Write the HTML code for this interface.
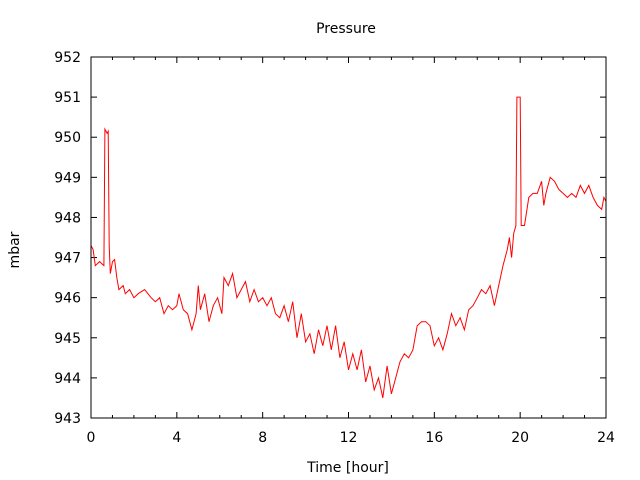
<!DOCTYPE html>
<html><head><meta charset="utf-8"><style>
html,body{margin:0;padding:0;background:#fff;}
svg{display:block;font-family:"DejaVu Sans","Liberation Sans",sans-serif;}
</style></head><body>
<svg id="chart" width="640" height="480" viewBox="0 0 640 480" xmlns="http://www.w3.org/2000/svg">
<rect width="640" height="480" fill="#fff"/>
<text x="346" y="33" font-size="14" text-anchor="middle" fill="#000">Pressure</text>
<text x="348" y="472" font-size="14" text-anchor="middle" fill="#000">Time [hour]</text>
<text x="19" y="250" font-size="14" text-anchor="middle" fill="#000" transform="rotate(-90 19 250)">mbar</text>
<g id="axes"></g>
<polyline id="series" fill="none" stroke="#ff0000" stroke-width="1"/>
<rect x="91" y="57" width="515" height="361" fill="none" stroke="#000" stroke-width="1"/>
</svg>
<script>
const hours = [0,0.1,0.2,0.4,0.6,0.65,0.75,0.8,0.85,0.9,1.0,1.1,1.2,1.3,1.5,1.6,1.8,2.0,2.2,2.5,2.8,3.0,3.2,3.4,3.6,3.8,4.0,4.1,4.3,4.5,4.7,4.9,5.0,5.1,5.3,5.5,5.7,5.9,6.1,6.2,6.4,6.6,6.8,7.0,7.2,7.4,7.6,7.8,8.0,8.2,8.4,8.6,8.8,9.0,9.2,9.4,9.6,9.8,10.0,10.2,10.4,10.6,10.8,11.0,11.2,11.4,11.6,11.8,12.0,12.2,12.4,12.6,12.8,13.0,13.2,13.4,13.6,13.8,14.0,14.2,14.4,14.6,14.8,15.0,15.2,15.4,15.6,15.8,16.0,16.2,16.4,16.6,16.8,17.0,17.2,17.4,17.6,17.8,18.0,18.2,18.4,18.6,18.8,19.0,19.2,19.4,19.5,19.6,19.7,19.8,19.85,19.95,20.0,20.05,20.2,20.4,20.6,20.8,21.0,21.1,21.2,21.4,21.6,21.8,22.0,22.2,22.4,22.6,22.8,23.0,23.2,23.4,23.6,23.8,23.9,24.0];
const pressure = [947.3,947.2,946.8,946.9,946.8,950.2,950.1,950.15,947.3,946.6,946.9,946.95,946.5,946.2,946.3,946.1,946.2,946.0,946.1,946.2,946.0,945.9,946.0,945.6,945.8,945.7,945.8,946.1,945.7,945.6,945.2,945.6,946.3,945.7,946.1,945.4,945.8,946.0,945.6,946.5,946.3,946.6,946.0,946.2,946.4,945.9,946.2,945.9,946.0,945.8,946.0,945.6,945.5,945.8,945.4,945.9,945.0,945.6,944.9,945.1,944.6,945.2,944.8,945.3,944.7,945.3,944.5,944.9,944.2,944.6,944.2,944.7,943.9,944.3,943.7,944.0,943.5,944.3,943.6,944.0,944.4,944.6,944.5,944.7,945.3,945.4,945.4,945.3,944.8,945.0,944.7,945.1,945.6,945.3,945.5,945.2,945.7,945.8,946.0,946.2,946.1,946.3,945.8,946.3,946.8,947.2,947.5,947.0,947.6,947.8,951.0,951.0,951.0,947.8,947.8,948.5,948.6,948.6,948.9,948.3,948.6,949.0,948.9,948.7,948.6,948.5,948.6,948.5,948.8,948.6,948.8,948.5,948.3,948.2,948.5,948.4];
const xTicks = [0,4,8,12,16,20,24];
const yTicks = [943,944,945,946,947,948,949,950,951,952];

const X0=91,X1=606,Y0=418,Y1=57;
function xs(h){return X0+(h-0)/(24-0)*(X1-X0);}
function ys(v){return Y0-(v-943)/(952-943)*(Y0-Y1);}
const NS="http://www.w3.org/2000/svg";
const axes=document.getElementById('axes');
function mk(tag,attrs){const e=document.createElementNS(NS,tag);for(const k in attrs)e.setAttribute(k,attrs[k]);axes.appendChild(e);return e;}
yTicks.forEach(v=>{
  const y=ys(v);
  const t1=mk('line',{x1:X0,x2:X0+6,y1:y,y2:y,stroke:'#000'});
  
  
  const t2=mk('line',{x1:X1-6,x2:X1,y1:y,y2:y,stroke:'#000'});
  
  
  const l=mk('text',{x:X0-10,y:y+5,'font-size':14,'text-anchor':'end',fill:'#000'});
  l.textContent=v;
  
  
});
for(let h=0;h<=24;h++){
  const x=xs(h);const major=h%4===0;const len=major?6:3;
  const t1=mk('line',{x1:x,x2:x,y1:Y0,y2:Y0-len,stroke:'#000'});
  
  
  const t2=mk('line',{x1:x,x2:x,y1:Y1,y2:Y1+len,stroke:'#000'});
  
  
}
xTicks.forEach(h=>{
  const l=mk('text',{x:xs(h),y:Y0+24,'font-size':14,'text-anchor':'middle',fill:'#000'});
  l.textContent=h;
  
  
});
document.getElementById('series').setAttribute('points',hours.map((h,i)=>xs(h).toFixed(1)+','+ys(pressure[i]).toFixed(1)).join(' '));
</script>
</body></html>
